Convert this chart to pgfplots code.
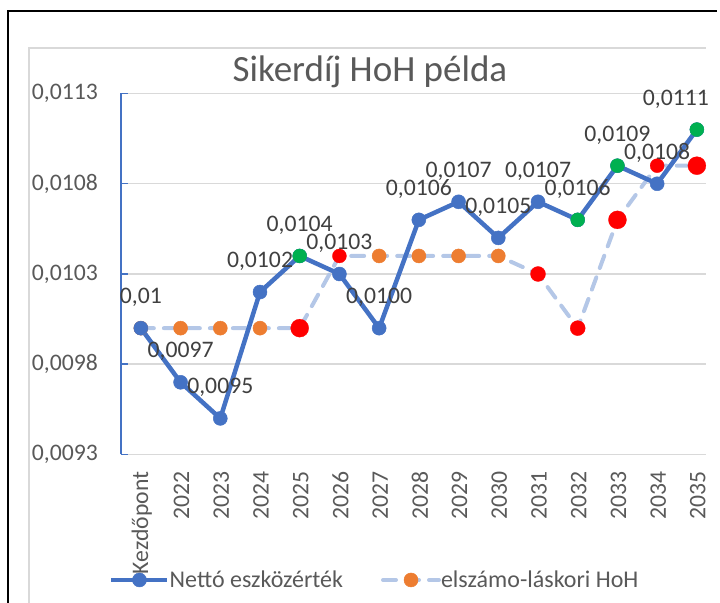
\documentclass[border=0pt]{standalone}
\usepackage{fontspec}
\setmainfont{Carlito}
\usepackage{pgfplots}
\usepackage{pgfplotstable}
\pgfplotsset{compat=1.18}
\definecolor{axisblue}{HTML}{4472C4}
\definecolor{lineblue}{HTML}{4472C4}
\definecolor{lightblue}{HTML}{B4C7E7}
\definecolor{orng}{HTML}{ED7D31}
\definecolor{rd}{HTML}{FF0000}
\definecolor{grn}{HTML}{00B050}
\definecolor{gridgray}{HTML}{D9D9D9}
\definecolor{tickgray}{HTML}{595959}
\definecolor{labgray}{HTML}{404040}

\pgfplotstableread{
x y lab dx
0 0.0100 0,01 0
1 0.0097 0,0097 0
2 0.0095 0,0095 0
3 0.0102 0,0102 0
4 0.0104 0,0104 0
5 0.0103 0,0103 0
6 0.0100 0,0100 0
7 0.0106 0,0106 0
8 0.0107 0,0107 0
9 0.0105 0,0105 0
10 0.0107 0,0107 0
11 0.0106 0,0106 0
12 0.0109 0,0109 0
13 0.0108 0,0108 0
14 0.0111 0,0111 -21
}\netto

\pgfplotstableread{
x y
0 0.0100
1 0.0100
2 0.0100
3 0.0100
4 0.0100
5 0.0104
6 0.0104
7 0.0104
8 0.0104
9 0.0104
10 0.0103
11 0.0100
12 0.0106
13 0.0109
14 0.0109
}\hoh

\begin{document}
\begin{tikzpicture}
\useasboundingbox (0,0) rectangle (720bp,603bp);
\draw[black, line width=2bp] (8bp,0) -- (8bp,592bp) -- (717bp,592bp);
\draw[gridgray, line width=1.5bp] (29bp,0) -- (29bp,555bp) -- (706bp,555bp);
\begin{axis}[
  at={(121bp,148.5bp)}, anchor=south west,
  scale only axis, width=585bp, height=361bp,
  xmin=-0.5, xmax=14.23, ymin=0.0093, ymax=0.0113,
  clip=false,
  scaled y ticks=false,
  axis lines*=left,
  x axis line style={draw=none},
  y axis line style={draw=axisblue, line width=1.5bp},
  xtick={0,1,...,14},
  xticklabels={Kezdőpont,2022,2023,2024,2025,2026,2027,2028,2029,2030,2031,2032,2033,2034,2035},
  xtick style={draw=none},
  xticklabel style={yshift=-17bp, xshift=1bp, rotate=90, anchor=east, inner sep=0pt, font=\fontsize{23.7bp}{28bp}\selectfont, text=tickgray},
  ytick={0.0093,0.0098,0.0103,0.0108,0.0113},
  yticklabels={{0,0093},{0,0098},{0,0103},{0,0108},{0,0113}},
  yticklabel style={anchor=east, inner sep=0pt, xshift=-23bp, font=\fontsize{23.7bp}{28bp}\selectfont, text=tickgray},
  ytick style={draw=axisblue, line width=1.5bp},
  tick align=inside, major tick length=7bp,
  ymajorgrids, major grid style={draw=gridgray, line width=1.5bp},
  title={Sikerdíj HoH példa},
  title style={at={(0.4256,1.018)}, anchor=base, inner sep=0pt, font=\fontsize{37bp}{44bp}\selectfont, text=tickgray},
  legend columns=2,
  reverse legend,
  legend cell align=left,
  legend style={at={(-0.0205,-0.3476)}, anchor=west, draw=none, fill=none,
    font=\fontsize{24bp}{28bp}\selectfont, text=tickgray, inner sep=0pt,
    nodes={inner sep=0pt},
    /tikz/every odd column/.append style={column sep=0bp},
    /tikz/every even column/.append style={column sep=38bp}},
  legend image code/.code={\draw[#1, mark indices={2}] plot coordinates {(0bp,0bp) (28bp,0bp) (56bp,0bp)};},
]
% dashed series
\addplot[lightblue, line width=4bp, line cap=round, dash pattern=on 13bp off 10bp,
  mark=*, mark indices={1,2,3,4,7,8,9,10}, mark size=7bp,
  mark options={solid, fill=orng, draw=orng, line width=0.5bp}] table[x=x,y=y] {\hoh};
\addlegendentry{elszámo-láskori HoH}
% main series
\addplot[lineblue, line width=4.5bp, line join=round, mark=*, mark size=7bp,
  mark options={fill=lineblue, draw=lineblue, line width=0.5bp},
  nodes near coords, point meta=explicit symbolic,
  visualization depends on={\thisrow{dx}\as\dx},
  every node near coord/.append style={anchor=base, yshift=24.5bp, xshift=\dx bp, inner sep=0pt,
    font=\fontsize{23.7bp}{28bp}\selectfont, text=labgray}]
  table[x=x,y=y,meta=lab] {\netto};
\addlegendentry{Nettó eszközérték}
% red markers
\addplot[only marks, mark=*, mark size=9bp, mark options={fill=rd, draw=rd, line width=0.3bp}, forget plot]
  coordinates {(4,0.0100) (12,0.0106) (14,0.0109)};
\addplot[only marks, mark=*, mark size=7.5bp, mark options={fill=rd, draw=rd, line width=0.3bp}, forget plot]
  coordinates {(10,0.0103) (11,0.0100)};
\addplot[only marks, mark=*, mark size=7bp, mark options={fill=rd, draw=rd, line width=0.3bp}, forget plot]
  coordinates {(5,0.0104) (13,0.0109)};
% green markers
\addplot[only marks, mark=*, mark size=7bp, mark options={fill=grn, draw=grn, line width=0.3bp}, forget plot]
  coordinates {(4,0.0104) (11,0.0106) (12,0.0109) (14,0.0111)};
\end{axis}
\end{tikzpicture}
\end{document}
